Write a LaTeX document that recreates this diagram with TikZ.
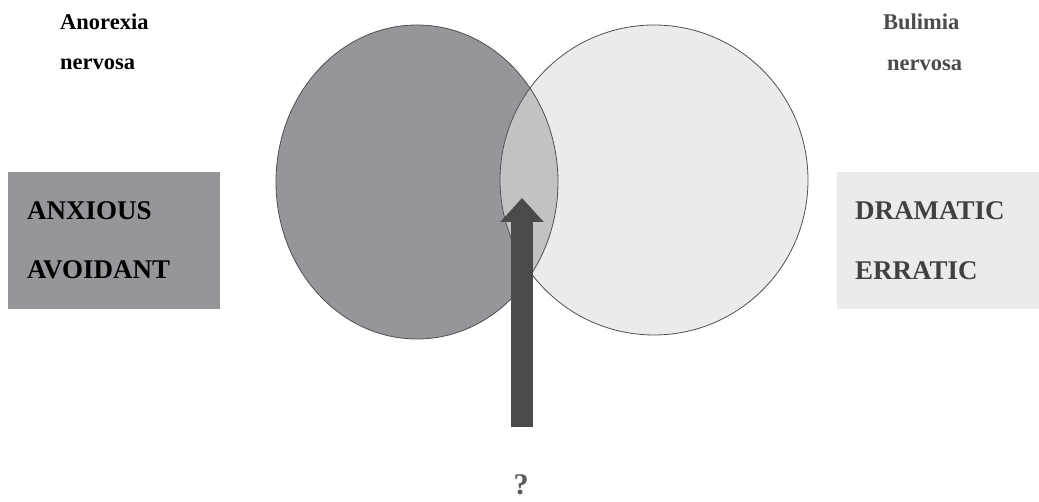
\documentclass[tikz,border=0pt]{standalone}
\usepackage{fontspec}
\setmainfont{Liberation Serif}
\usepackage{xcolor}
\usetikzlibrary{arrows.meta}
\definecolor{anxgray}{HTML}{96969A}
\definecolor{dramgray}{HTML}{EBEBEB}
\definecolor{overlapgray}{HTML}{C2C2C4}
\definecolor{arrowgray}{HTML}{4A4A4C}
\definecolor{edgegray}{HTML}{505052}
\tikzset{
  label/.style={font=\fontsize{22.5}{24}\selectfont\bfseries, anchor=base west, inner sep=0pt},
  cluster/.style={font=\fontsize{27}{28}\selectfont\bfseries, anchor=base west, inner sep=0pt}
}

\begin{document}
\begin{tikzpicture}[x=1pt,y=1pt]
\useasboundingbox (0,0) rectangle (1039,502);
\coordinate (L) at (417,320);
\coordinate (R) at (654,322);
\coordinate (foot) at (522,75);
\coordinate (tip) at (522,304);
% the two eating disorders
\fill[anxgray] (L) ellipse (141 and 157);
\fill[dramgray] (R) ellipse (154 and 155);
\begin{scope}
\clip (L) ellipse (141 and 157);
\fill[overlapgray] (R) ellipse (154 and 155);
\end{scope}
\draw[edgegray,line width=0.8pt] (L) ellipse (141 and 157);
\draw[edgegray,line width=0.8pt] (R) ellipse (154 and 155);
\node[label] (an1) at (60,472) {Anorexia};
\node[label] (an2) at (60,432) {nervosa};
\node[label,text=black!70] (bn1) at (883,472) {Bulimia};
\node[label,text=black!70] (bn2) at (887,431) {nervosa};
% personality clusters
\fill[anxgray] (8,193) rectangle (220,330);
\node[cluster] (anx) at (27,282) {ANXIOUS};
\node[cluster] (avo) at (27,223) {AVOIDANT};
\fill[dramgray] (837,193) rectangle (1039,330);
\node[cluster,text=black!75] (dra) at (855,282) {DRAMATIC};
\node[cluster,text=black!75] (err) at (855,222) {ERRATIC};
% question
\draw[arrowgray,line width=22pt,-{Triangle[width=42pt,length=24pt]}] (foot) -- (tip);
\node[font=\fontsize{30}{32}\selectfont\bfseries,text=black!65] (q) at (521,17) {?};
\end{tikzpicture}
\end{document}
